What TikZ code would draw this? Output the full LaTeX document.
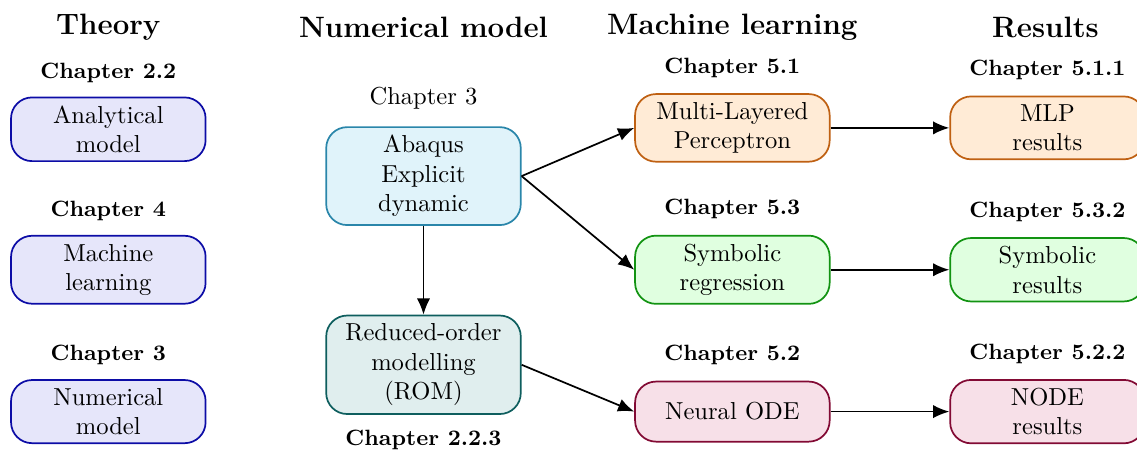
\documentclass[tikz,border=0pt]{standalone}
\usepackage{tikz}
\usetikzlibrary{arrows.meta, positioning}
\definecolor{theoryfill}{HTML}{E6E6FA}
\definecolor{theoryline}{HTML}{0C0CA6}
\definecolor{abaqusfill}{HTML}{E0F3FA}
\definecolor{abaqusline}{HTML}{2A86AA}
\definecolor{romfill}{HTML}{E0EEEE}
\definecolor{romline}{HTML}{0E5E5E}
\definecolor{mlpfill}{HTML}{FFEBD6}
\definecolor{mlpline}{HTML}{BF6012}
\definecolor{symfill}{HTML}{E0FFE0}
\definecolor{symline}{HTML}{129312}
\definecolor{odefill}{HTML}{F7E0E8}
\definecolor{odeline}{HTML}{820A34}
\tikzstyle{arrow} = [line width=0.7pt, ->, >={Latex[length=6.6pt, width=5.4pt]}]
\tikzstyle{box} = [rectangle, rounded corners=3mm, draw, line width=0.7pt, text width=2.55cm, minimum height=0.86cm, inner sep=3.33pt, align=center]
\tikzstyle{theorybox} = [box, draw=theoryline, fill=theoryfill]
\tikzstyle{abaqusbox} = [box, draw=abaqusline, fill=abaqusfill]
\tikzstyle{rombox} = [box, draw=romline, fill=romfill]
\tikzstyle{mlpbox} = [box, draw=mlpline, fill=mlpfill]
\tikzstyle{symbox} = [box, draw=symline, fill=symfill]
\tikzstyle{odebox} = [box, draw=odeline, fill=odefill]
\tikzstyle{heading} = [font=\large\bfseries]
\tikzstyle{chap} = [font=\small\bfseries]

\begin{document}
\begin{tikzpicture}

  \useasboundingbox (0,0) rectangle (16.27,-6.47);

  % Column titles
  \node (ttheory) [heading] at (1.55,-0.39) {Theory};
  \node (tnum) [heading] at (6.06,-0.39) {Numerical model};
  \node (tml) [heading] at (10.48,-0.39) {Machine learning};
  \node (tres) [heading] at (14.96,-0.39) {Results};

  % Theory
  \node (ana) [theorybox] at (1.55,-1.85) {Analytical\\model};
  \node (mlth) [theorybox] at (1.55,-3.86) {Machine\\learning};
  \node (numth) [theorybox] at (1.55,-5.89) {Numerical\\model};
  \node (cana) [chap, above=0.08cm of ana] {Chapter 2.2};
  \node (cmlth) [chap, above=0.08cm of mlth] {Chapter 4};
  \node (cnumth) [chap, above=0.08cm of numth] {Chapter 3};

  % Numerical model
  \node (abaqus) [abaqusbox] at (6.06,-2.52) {Abaqus\\Explicit\\dynamic};
  \node (rom) [rombox, below=1.27cm of abaqus] {Reduced-order\\modelling\\(ROM)};
  \node (cabaqus) [above=0.12cm of abaqus] {Chapter 3};
  \node (crom) [chap, below=0.1cm of rom] {Chapter 2.2.3};

  % Machine learning
  \node (mlp) [mlpbox] at (10.48,-1.83) {Multi-Layered\\Perceptron};
  \node (sym) [symbox] at (10.48,-3.86) {Symbolic\\regression};
  \node (ode) [odebox] at (10.48,-5.89) {Neural ODE};
  \node (cmlp) [chap, above=0.1cm of mlp] {Chapter 5.1};
  \node (csym) [chap, above=0.1cm of sym] {Chapter 5.3};
  \node (code) [chap, above=0.1cm of ode] {Chapter 5.2};

  % Results
  \node (mlpres) [mlpbox, right=1.7cm of mlp] {MLP\\results};
  \node (symres) [symbox, right=1.7cm of sym] {Symbolic\\results};
  \node (oderes) [odebox, right=1.7cm of ode] {NODE\\results};
  \node (cmlpres) [chap, above=0.1cm of mlpres] {Chapter 5.1.1};
  \node (csymres) [chap, above=0.1cm of symres] {Chapter 5.3.2};
  \node (coderes) [chap, above=0.1cm of oderes] {Chapter 5.2.2};

  % Arrows
  \draw[arrow] (abaqus.east) -- (mlp.west);
  \draw[arrow] (abaqus.east) -- (sym.west);
  \draw[arrow] (abaqus) -- (rom);
  \draw[arrow] (rom.east) -- (ode.west);
  \draw[arrow] (mlp) -- (mlpres);
  \draw[arrow] (sym) -- (symres);
  \draw[arrow] (ode) -- (oderes);

\end{tikzpicture}
\end{document}
